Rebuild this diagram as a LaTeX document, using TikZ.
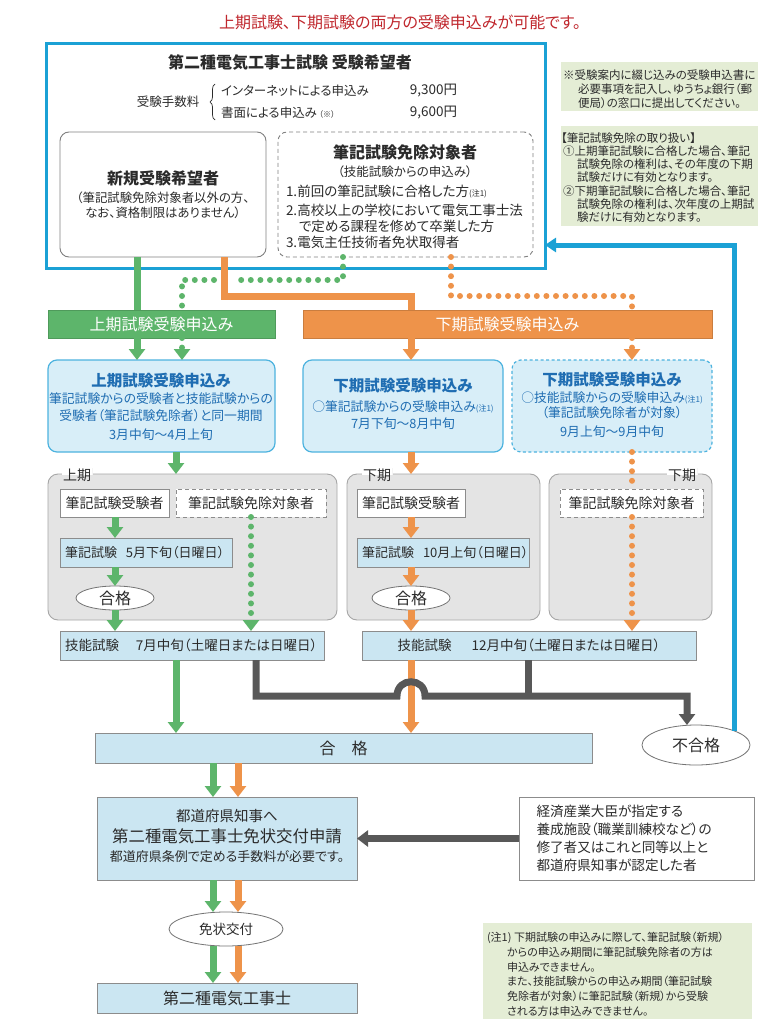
\documentclass[tikz,border=0pt]{standalone}
\usepackage{fontspec}
\setmainfont{Noto Sans CJK JP}[RawFeature=+palt]
\usetikzlibrary{arrows.meta,shapes.geometric,decorations.pathreplacing}
\definecolor{cblue}{HTML}{1BA1D5}
\definecolor{bblue}{HTML}{4DB3DF}
\definecolor{cgreen}{HTML}{5DB56B}
\definecolor{corange}{HTML}{EE934A}
\definecolor{lblue}{HTML}{D8EEF8}
\definecolor{lblue2}{HTML}{CBE6F2}
\definecolor{bgray}{HTML}{E4E4E4}
\definecolor{dgray}{HTML}{585858}
\definecolor{ngreen}{HTML}{E4EDD5}
\definecolor{tred}{HTML}{C0272D}
\definecolor{tblue}{HTML}{1F6DB2}
\definecolor{txtc}{HTML}{2B2B2B}
\newcommand\fsz[1]{\fontsize{#1}{#1}\selectfont}
\begin{document}
\begin{tikzpicture}[x=1pt,y=-1pt,
  every node/.style={inner sep=0pt,outer sep=0pt,text=txtc},
  tipA/.style={-{Triangle[width=16pt,length=11pt]}},
  gline/.style={draw=cgreen,line width=7pt},
  oline/.style={draw=corange,line width=7pt},
  kline/.style={draw=dgray,line width=7pt},
  gdots/.style={draw=cgreen,line width=6pt,line cap=round,dash pattern=on 0pt off 9.6pt},
  odots/.style={draw=corange,line width=6pt,line cap=round,dash pattern=on 0pt off 9.6pt},
  wround/.style={draw=black!50,line width=0.9pt,fill=white,rounded corners=9pt},
  bluebox/.style={draw=bblue,line width=1.2pt,fill=lblue,rounded corners=9pt},
  grayarea/.style={draw=black!35,line width=0.9pt,fill=bgray,rounded corners=10pt},
  wbox/.style={draw=black!45,line width=0.8pt,fill=white},
  lbbox/.style={draw=black!45,line width=0.8pt,fill=lblue2},
  oval/.style={ellipse,draw=black!55,line width=0.8pt,fill=white},
  notebox/.style={fill=ngreen},
  dashbox/.style={dash pattern=on 4pt off 3pt},
  bt/.style={text=tblue,font=\bfseries\fsz{15.5}},
  bs/.style={text=tblue,font=\fsz{12.8}},
  ntext/.style={font=\fsz{11.5},text=txtc},
  plabel/.style={font=\fsz{14},inner xsep=1.5pt,inner ysep=1pt,fill=bgray,
    path picture={\fill[white] (path picture bounding box.north west) rectangle (path picture bounding box.east);}}
]
\useasboundingbox (0,0) rectangle (769,1024);
\fill[white] (0,0) rectangle (769,1024);

% title
\node[font=\fsz{16},text=tred] (title) at (400,22) {上期試験、下期試験の両方の受験申込みが可能です。};

% notes top right
\node[notebox,minimum width=197pt,minimum height=49pt,anchor=north west] (note1) at (561,62) {};
\foreach \txt/\xx [count=\i] in {{※受験案内に綴じ込みの受験申込書に}/563,{必要事項を記入し、ゆうちょ銀行（郵}/578,{便局）の窓口に提出してください。}/578}
  \node[ntext,anchor=west] (na\i) at (\xx,61+14*\i) {\txt};
\node[notebox,minimum width=197pt,minimum height=100pt,anchor=north west] (note2) at (561,126) {};
\foreach \txt/\xx [count=\i] in {{【筆記試験免除の取り扱い】}/561,{①上期筆記試験に合格した場合、筆記}/563,{試験免除の権利は、その年度の下期}/577,{試験だけに有効となります。}/577,{②下期筆記試験に合格した場合、筆記}/563,{試験免除の権利は、次年度の上期試}/577,{験だけに有効となります。}/577}
  \node[ntext,anchor=west] (nb\i) at (\xx,124.7+13.2*\i) {\txt};

% outer box
\node[draw=cblue,line width=3pt,minimum width=499pt,minimum height=224pt,anchor=north west] (outer) at (46,44) {};
\node[font=\bfseries\fsz{16}] (hdr) at (290,63) {第二種電気工事士試験 受験希望者};
\node[font=\fsz{12.5}] (feelbl) at (168,102) {受験手数料};
\draw[decorate,decoration={brace,amplitude=5pt},line width=0.7pt,draw=txtc] (215,120) -- (215,84);
\node[font=\fsz{12.5},anchor=west] (fee1) at (221,91) {インターネットによる申込み};
\node[font=\fsz{12.5},anchor=west] (fee2) at (221,113) {書面による申込み\,\fsz{8}（※）};
\node[font=\fsz{13.5},anchor=east] (p1) at (457,91) {9,300円};
\node[font=\fsz{13.5},anchor=east] (p2) at (457,113) {9,600円};

\node[wround,minimum width=206pt,minimum height=125pt,anchor=north west] (shinki) at (60,132) {};
\node[font=\bfseries\fsz{16}] (st1) at (163,178) {新規受験希望者};
\node[font=\fsz{12.4}] (st2) at (163,198) {（筆記試験免除対象者以外の方、};
\node[font=\fsz{12.4}] (st3) at (163,213) {なお、資格制限はありません）};

\node[wround,dashbox,minimum width=255pt,minimum height=125pt,anchor=north west] (menjo) at (278,132) {};
\node[font=\bfseries\fsz{16}] (mt1) at (405,152) {筆記試験免除対象者};
\node[font=\fsz{12.5}] (mt2) at (405,172) {（技能試験からの申込み）};
\node[font=\fsz{13.5},anchor=west] (mt3) at (286,192) {1.前回の筆記試験に合格した方{\fsz{8}(注1)}};
\node[font=\fsz{13.5},anchor=west] (mt4) at (286,210) {2.高校以上の学校において電気工事士法};
\node[font=\fsz{13.5},anchor=west] (mt5) at (299,226) {で定める課程を修めて卒業した方};
\node[font=\fsz{13.5},anchor=west] (mt6) at (286,242) {3.電気主任技術者免状取得者};

% application bars
\node[fill=cgreen,draw=cgreen!85!black,line width=0.5pt,minimum width=227pt,minimum height=28pt,anchor=north west,font=\fsz{16},text=white] (gbar) at (48,310) {上期試験受験申込み};
\node[fill=corange,draw=corange!85!black,line width=0.5pt,minimum width=409pt,minimum height=28pt,anchor=north west,font=\fsz{16},text=white] (obar) at (303,310) {下期試験受験申込み};

% blue request boxes
\node[bluebox,minimum width=227pt,minimum height=92pt,anchor=north west] (jreq) at (48,360) {};
\node[bt] (jt1) at (161,381) {上期試験受験申込み};
\node[bs] (jt2) at (161,399) {筆記試験からの受験者と技能試験からの};
\node[bs] (jt3) at (161,416) {受験者（筆記試験免除者）と同一期間};
\node[bs] (jt4) at (161,435) {3月中旬～4月上旬};

\node[bluebox,minimum width=200pt,minimum height=92pt,anchor=north west] (kreq1) at (303,360) {};
\node[bt] (k1t1) at (403,386) {下期試験受験申込み};
\node[bs] (k1t2) at (403,407) {○筆記試験からの受験申込み{\fsz{8}(注1)}};
\node[bs] (k1t3) at (403,424) {7月下旬～8月中旬};

\node[bluebox,dash pattern=on 3pt off 2.5pt,minimum width=200pt,minimum height=92pt,anchor=north west] (kreq2) at (512,360) {};
\node[bt] (k2t1) at (612,380) {下期試験受験申込み};
\node[bs] (k2t2) at (612,398) {○技能試験からの受験申込み{\fsz{8}(注1)}};
\node[bs] (k2t3) at (612,413) {（筆記試験免除者が対象）};
\node[bs] (k2t4) at (612,432) {9月上旬～9月中旬};

% gray areas
\node[grayarea,minimum width=289pt,minimum height=146pt,anchor=north west] (area1) at (48,474) {};
\node[grayarea,minimum width=193pt,minimum height=146pt,anchor=north west] (area2) at (347,474) {};
\node[grayarea,minimum width=163pt,minimum height=146pt,anchor=north west] (area3) at (549,474) {};
\node[plabel] (lab1) at (77,475) {上期};
\node[plabel] (lab2) at (377,475) {下期};
\node[plabel] (lab3) at (682,475) {下期};

\node[wbox,minimum width=109pt,minimum height=28pt,anchor=north west,font=\fsz{14}] (hk1) at (60,489) {筆記試験受験者};
\node[wbox,dashbox,minimum width=150pt,minimum height=28pt,anchor=north west,font=\fsz{14}] (ex1) at (176,489) {筆記試験免除対象者};
\node[lbbox,minimum width=172pt,minimum height=29pt,anchor=north west,font=\fsz{13},text width=162pt,align=left] (hs1) at (60,538) {\mbox{筆記試験\hspace{9pt}5月下旬（日曜日）}};
\node[oval,minimum width=78pt,minimum height=24pt,font=\fsz{16}] (ok1) at (115,598) {合格};
\node[lbbox,minimum width=264pt,minimum height=29pt,anchor=north west,font=\fsz{13.5},text width=254pt,align=left] (gi1) at (60,631) {\mbox{技能試験\hspace{17pt}7月中旬（土曜日または日曜日）}};

\node[wbox,minimum width=108pt,minimum height=28pt,anchor=north west,font=\fsz{14}] (hk2) at (357,489) {筆記試験受験者};
\node[lbbox,minimum width=172pt,minimum height=29pt,anchor=north west,font=\fsz{13},text width=162pt,align=left] (hs2) at (357,538) {\mbox{筆記試験\hspace{9pt}10月上旬（日曜日）}};
\node[oval,minimum width=78pt,minimum height=24pt,font=\fsz{16}] (ok2) at (411,598) {合格};

\node[wbox,dashbox,minimum width=143pt,minimum height=28pt,anchor=north west,font=\fsz{14}] (ex3) at (560,489) {筆記試験免除対象者};

\node[lbbox,minimum width=334pt,minimum height=29pt,anchor=north west,font=\fsz{13.5}] (gi2) at (362,631) {技能試験\hspace{20pt}12月中旬（土曜日または日曜日）};

% results
\node[lbbox,minimum width=497pt,minimum height=30pt,anchor=north west,font=\fsz{16}] (pass) at (95,733) {合　格};
\node[oval,minimum width=108pt,minimum height=40pt,font=\fsz{16}] (ng) at (696,745) {不合格};

\node[lbbox,minimum width=260pt,minimum height=83pt,anchor=north west] (apply) at (97,797) {};
\node[font=\fsz{14.5}] (ap1) at (227,816) {都道府県知事へ};
\node[font=\fsz{16.4}] (ap2) at (227,836) {第二種電気工事士免状交付申請};
\node[font=\fsz{13}] (ap3) at (227,857) {都道府県条例で定める手数料が必要です。};

\node[wbox,minimum width=235pt,minimum height=83pt,anchor=north west,font=\fontsize{13.6}{18}\selectfont,text width=200pt,align=left] (esp) at (519,797) {経済産業大臣が指定する\\養成施設（職業訓練校など）の\\修了者又はこれと同等以上と\\都道府県知事が認定した者};

\node[oval,minimum width=114pt,minimum height=34pt,font=\fsz{13.5}] (kofu) at (226,929) {免状交付};
\node[lbbox,minimum width=260pt,minimum height=30pt,anchor=north west,font=\fsz{16}] (final) at (97,983) {第二種電気工事士};

\node[notebox,minimum width=269pt,minimum height=96pt,anchor=north west] (note3) at (483,923) {};
\foreach \txt/\xx [count=\i] in {{(注1) 下期試験の申込みに際して、筆記試験（新規）}/487,{からの申込み期間に筆記試験免除者の方は}/507,{申込みできません。}/507,{また、技能試験からの申込み期間（筆記試験}/507,{免除者が対象）に筆記試験（新規）から受験}/507,{される方は申込みできません。}/507}
  \node[ntext,font=\fsz{11},anchor=west] (nc\i) at (\xx,923.4+14.6*\i) {\txt};

% ---------- connectors ----------
\draw[gline] (shinki.south -| 137,0) -- (gbar.north -| 137,0);
\draw[gdots] (menjo.south -| 343,0) |- (234,280);
\draw[gdots] (214,280) -| (gbar.north -| 182,0);
\draw[oline] (shinki.south -| 224,0) |- (411,296) -- (obar.north -| 411,0);
\draw[odots] (menjo.south -| 451,0) |- (632,296) -- (obar.north -| 632,0);

\draw[gline,tipA] (gbar.south -| 137,0) -- (jreq.north -| 137,0);
\draw[gdots,tipA] (gbar.south -| 182,0) -- (jreq.north -| 182,0);
\draw[oline,tipA] (obar.south -| 411,0) -- (kreq1.north -| 411,0);
\draw[odots,tipA] (obar.south -| 632,0) -- (kreq2.north -| 632,0);

\draw[gline,tipA] (jreq.south -| 176,0) -- (area1.north -| 176,0);
\draw[oline,tipA] (kreq1.south -| 411,0) -- (area2.north -| 411,0);
\draw[odots] (kreq2.south -| 632,0) -- (ex3.north -| 632,0);
\draw[odots,tipA] (ex3.south -| 632,0) -- (gi2.north -| 632,0);

\draw[gline,tipA] (hk1.south -| 115,0) -- (hs1.north -| 115,0);
\draw[gline,tipA] (hs1.south -| 115,0) -- (ok1.north);
\draw[gline,tipA] (ok1.south) -- (gi1.north -| 115,0);
\draw[gdots,tipA] (ex1.south -| 251,0) -- (gi1.north -| 251,0);

\draw[oline,tipA] (hk2.south -| 411,0) -- (hs2.north -| 411,0);
\draw[oline,tipA] (hs2.south -| 411,0) -- (ok2.north);
\draw[oline,tipA] (ok2.south) -- (gi2.north -| 411,0);

\draw[gline,tipA] (gi1.south -| 176,0) -- (pass.north -| 176,0);
\draw[oline,tipA] (gi2.south -| 411,0) -- (pass.north -| 411,0);
\draw[kline] (gi2.south -| 528,0) -- (528,696);
\draw[kline,tipA] (gi1.south -| 256,0) -- (256,696) -- (397,696) .. controls (397,677) and (425,677) .. (425,696) -- (687,696) -- (ng.north -| 687,0);
\draw[draw=cblue,line width=5pt,-{Triangle[width=14pt,length=11pt]}] (ng.north east) -- (ng.north east |- 0,245) -- (outer.east |- 0,245);

\draw[gline,tipA] (pass.south -| 213,0) -- (apply.north -| 213,0);
\draw[oline,tipA] (pass.south -| 238,0) -- (apply.north -| 238,0);
\draw[kline,tipA] (esp.west) -- (apply.east);
\draw[gline,tipA] (apply.south -| 213,0) -- (kofu.north -| 213,0);
\draw[oline,tipA] (apply.south -| 238,0) -- (kofu.north -| 238,0);
\draw[gline,tipA] (kofu.south -| 213,0) -- (final.north -| 213,0);
\draw[oline,tipA] (kofu.south -| 238,0) -- (final.north -| 238,0);
\end{tikzpicture}
\end{document}
